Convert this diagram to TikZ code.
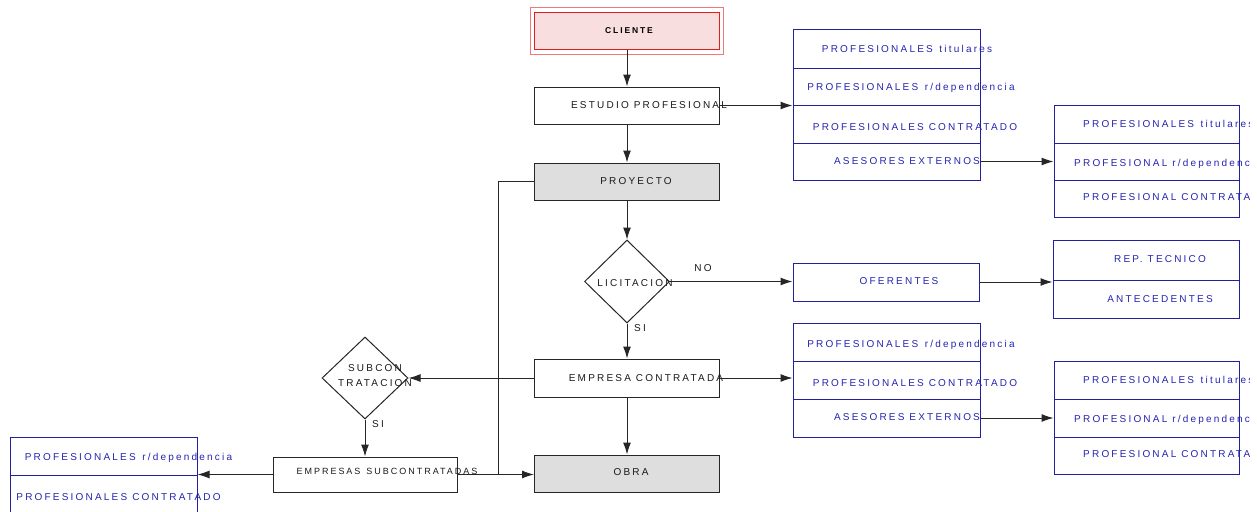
\documentclass[tikz,border=0pt]{standalone}
\usepackage{fontspec}
\setmainfont{Liberation Sans}[LetterSpace=22]
\usetikzlibrary{arrows.meta,shapes.geometric}
\definecolor{pinkfill}{HTML}{F9DEDF}
\definecolor{redin}{HTML}{E02020}
\definecolor{redout}{HTML}{F07878}
\definecolor{grayfill}{HTML}{DEDEDE}
\definecolor{bline}{HTML}{2020A0}
\definecolor{btext}{HTML}{2424B0}
\tikzset{
  mainbox/.style={draw=black!85, line width=1pt, minimum width=185pt, minimum height=37pt, inner sep=0pt},
  rowbox/.style={draw=bline, line width=1pt, inner sep=0pt},
  dia/.style={draw=black!85, line width=1pt, diamond, inner sep=0pt},
  txt/.style={font=\fontsize{10}{11}\selectfont, inner sep=0pt, text=black!90},
  btxt/.style={font=\fontsize{10}{11}\selectfont, inner sep=0pt, text=btext},
  arr/.style={-{Latex[length=12pt,width=8pt]}, line width=1pt, draw=black!85},
  ln/.style={line width=1pt, draw=black!85}
}
\begin{document}
\begin{tikzpicture}[x=1pt,y=-1pt]
\useasboundingbox (0,0) rectangle (1257,511);
\clip (0,0) rectangle (1249,511);
% CLIENTE
\node[draw=redout, line width=1pt, minimum width=193pt, minimum height=47pt, inner sep=0pt] (clienteo) at (627,31.5) {};
\node[draw=redin, fill=pinkfill, line width=1pt, minimum width=185pt, minimum height=37pt, inner sep=0pt] (cliente) at (627,31.5) {};
\node[txt, font=\fontsize{8.5}{9}\selectfont\bfseries, text=black] (tcliente) at (629,30.5) {CLIENTE};
% main column
\node[mainbox] (estudio) at (627,105.5) {};
\node[mainbox, fill=grayfill] (proyecto) at (627,181.5) {};
\node[dia, minimum width=85pt, minimum height=83pt] (licit) at (627,281.5) {};
\node[mainbox, minimum height=38pt] (empresa) at (627,378) {};
\node[mainbox, fill=grayfill] (obra) at (627,473.5) {};
\node[txt] (testudio) at (649,105.5) {ESTUDIO PROFESIONAL};
\node[txt] (tproyecto) at (636,181.5) {PROYECTO};
\node[txt] (tlicit) at (635,283.5) {LICITACION};
\node[txt] (tempresa) at (646,378.5) {EMPRESA CONTRATADA};
\node[txt] (tobra) at (631,472.5) {OBRA};
% group 1
\node[rowbox, minimum width=187pt, minimum height=38pt] (g1a) at (886.5,49) {};
\node[rowbox, minimum width=187pt, minimum height=37pt] (g1b) at (886.5,86.5) {};
\node[rowbox, minimum width=187pt, minimum height=38pt] (g1c) at (886.5,124) {};
\node[rowbox, minimum width=187pt, minimum height=37pt] (g1d) at (886.5,161.5) {};
\node[btxt] (t1a) at (907,48.5) {PROFESIONALES\, titulares};
\node[btxt] (t1b) at (911,87.5) {PROFESIONALES\, r/dependencia};
\node[btxt] (t1c) at (915,127.5) {PROFESIONALES CONTRATADO};
\node[btxt] (t1d) at (907,161.5) {ASESORES EXTERNOS};
% group 2
\node[rowbox, minimum width=185pt, minimum height=38pt] (g2a) at (1146.5,124) {};
\node[rowbox, minimum width=185pt, minimum height=37pt] (g2b) at (1146.5,161.5) {};
\node[rowbox, minimum width=185pt, minimum height=37pt] (g2c) at (1146.5,198.5) {};
\node[btxt, anchor=west] (t2a) at (1083,123.5) {PROFESIONALES\, titulares};
\node[btxt, anchor=west] (t2b) at (1074,163.5) {PROFESIONAL r/dependencia};
\node[btxt, anchor=west] (t2c) at (1083,197.5) {PROFESIONAL CONTRATADO};
% oferentes
\node[rowbox, minimum width=186pt, minimum height=38pt] (ofer) at (886,282) {};
\node[btxt] (tofer) at (899,281.5) {OFERENTES};
\node[rowbox, minimum width=186pt, minimum height=40pt] (rep) at (1146,260) {};
\node[rowbox, minimum width=186pt, minimum height=38pt] (ante) at (1146,299) {};
\node[btxt] (trep) at (1160,259.5) {REP. TECNICO};
\node[btxt] (tante) at (1160,299.5) {ANTECEDENTES};
% group 3
\node[rowbox, minimum width=187pt, minimum height=38pt] (g3a) at (886.5,342) {};
\node[rowbox, minimum width=187pt, minimum height=38pt] (g3b) at (886.5,380) {};
\node[rowbox, minimum width=187pt, minimum height=38pt] (g3c) at (886.5,418) {};
\node[btxt] (t3a) at (911,344.5) {PROFESIONALES\, r/dependencia};
\node[btxt] (t3b) at (915,383.5) {PROFESIONALES CONTRATADO};
\node[btxt] (t3c) at (907,417.5) {ASESORES EXTERNOS};
% group 4
\node[rowbox, minimum width=185pt, minimum height=38pt] (g4a) at (1146.5,380) {};
\node[rowbox, minimum width=185pt, minimum height=38pt] (g4b) at (1146.5,418) {};
\node[rowbox, minimum width=185pt, minimum height=37pt] (g4c) at (1146.5,455.5) {};
\node[btxt, anchor=west] (t4a) at (1083,379.5) {PROFESIONALES\, titulares};
\node[btxt, anchor=west] (t4b) at (1074,419.5) {PROFESIONAL r/dependencia};
\node[btxt, anchor=west] (t4c) at (1083,454.5) {PROFESIONAL CONTRATADO};
% subcontratacion
\node[dia, minimum width=86pt, minimum height=82pt] (subcon) at (365,378) {};
\node[txt, align=center, font=\fontsize{10}{15}\selectfont] (tsubcon) at (375,375.5) {SUBCON\\TRATACION};
\node[mainbox, minimum width=184pt, minimum height=35pt] (subemp) at (365,474.5) {};
\node[txt, font=\fontsize{9}{10}\selectfont] (tsubemp) at (387,471.5) {EMPRESAS\, SUBCONTRATADAS};
% group 5
\node[rowbox, minimum width=187pt, minimum height=38pt] (g5a) at (103.5,456) {};
\node[rowbox, minimum width=187pt, minimum height=40pt] (g5b) at (103.5,495) {};
\node[btxt] (t5a) at (128.5,457.5) {PROFESIONALES\, r/dependencia};
\node[btxt] (t5b) at (118.5,497.5) {PROFESIONALES CONTRATADO};
% labels
\node[txt] (lno) at (703,268.5) {NO};
\node[txt] (lsi1) at (640,328.5) {SI};
\node[txt] (lsi2) at (378,424.5) {SI};
% connectors
\draw[arr] (cliente.south) -- (estudio.north);
\draw[arr] (estudio.south) -- (proyecto.north);
\draw[arr] (proyecto.south) -- (licit.north);
\draw[arr] (licit.south) -- (empresa.north);
\draw[arr] (empresa.south) -- (obra.north);
\draw[arr] (estudio.east) -- (estudio.east -| g1c.west);
\draw[arr] (g1d.east) -- (g1d.east -| g2b.west);
\draw[arr] (licit.east) -- (licit.east -| ofer.west);
\draw[arr] (ofer.east) -- (ofer.east -| ante.west);
\draw[arr] (empresa.east) -- (empresa.east -| g3b.west);
\draw[arr] (g3c.east) -- (g3c.east -| g4b.west);
\draw[arr] (empresa.west) -- (subcon.east);
\draw[arr] (subcon.south) -- (subemp.north);
\draw[arr] (subemp.east) -- (subemp.east -| obra.west);
\coordinate (j) at (498,474.5);
\draw[ln] (proyecto.west) -| (j);
\draw[arr] (subemp.west) -- (subemp.west -| g5a.east);
\end{tikzpicture}
\end{document}
